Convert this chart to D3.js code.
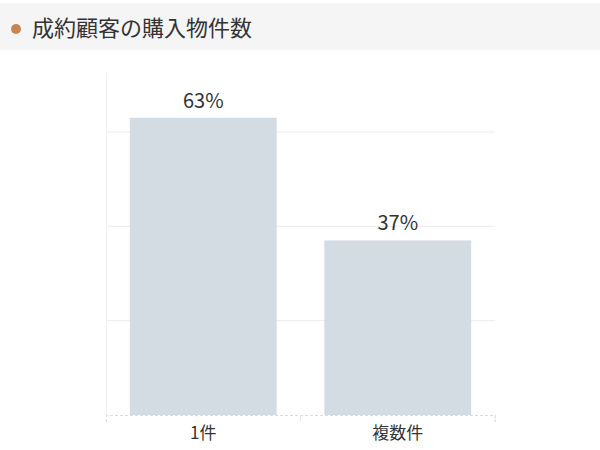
<!DOCTYPE html>
<html>
<head>
<meta charset="utf-8">
<script src="https://cdn.jsdelivr.net/npm/d3@7"></script>
<style>
  body { margin: 0; background: #fff; }
  svg { display: block; font-family: "Noto Sans CJK JP", "Noto Sans", sans-serif; }
</style>
</head>
<body>
<svg class="chart"></svg>
<script>
var categories = ["1件", "複数件"];
var values = [63, 37];
var gridTicks = [20, 40, 60];
var title = "成約顧客の購入物件数";

var width = 600;
var height = 450;
var svg = d3.select(".chart").attr("width", width).attr("height", height);

// header band
svg.append("rect")
  .attr("x", 0).attr("y", 3)
  .attr("width", width).attr("height", 47)
  .attr("fill", "#f5f5f5");
svg.append("circle")
  .attr("cx", 16).attr("cy", 29).attr("r", 5)
  .attr("fill", "#c9844f");
svg.append("text")
  .attr("x", 32).attr("y", 28)
  .attr("dy", "0.35em")
  .attr("font-size", 22)
  .attr("fill", "#333")
  .text(title);

var x = d3.scaleBand()
  .domain(categories)
  .range([106, 495])
  .paddingInner(0.245)
  .paddingOuter(0.1225);

var y = d3.scaleLinear()
  .domain([0, 72.5])
  .range([415, 73]);

// grid lines
svg.append("g")
  .selectAll("line")
  .data(gridTicks)
  .join("line")
  .attr("x1", 106).attr("x2", 495)
  .attr("y1", function(d){ return y(d); })
  .attr("y2", function(d){ return y(d); })
  .attr("stroke", "#ececec")
  .attr("stroke-width", 1);

// left axis line
svg.append("line")
  .attr("x1", 106.5).attr("x2", 106.5)
  .attr("y1", y(72.5)).attr("y2", y(0))
  .attr("stroke", "#f0f0f0");

// bars
svg.append("g")
  .selectAll("rect")
  .data(values)
  .join("rect")
  .attr("x", function(d, i){ return x(categories[i]); })
  .attr("y", function(d){ return y(d); })
  .attr("width", x.bandwidth())
  .attr("height", function(d){ return y(0) - y(d); })
  .attr("fill", "#d3dbe3");

// value labels
svg.append("g")
  .selectAll("text")
  .data(values)
  .join("text")
  .attr("x", function(d, i){ return x(categories[i]) + x.bandwidth() / 2; })
  .attr("y", function(d){ return y(d) - 17; })
  .attr("text-anchor", "middle")
  .attr("dy", "0.35em")
  .attr("font-size", 20)
  .attr("fill", "#333")
  .text(function(d){ return d + "%"; });

// x axis
var xAxis = d3.axisBottom(x).tickSize(7).tickPadding(5).tickSizeOuter(7);
var gx = svg.append("g")
  .attr("transform", "translate(0,415)")
  .call(xAxis);
gx.select(".domain")
  .attr("stroke", "#dcdcdc")
  .attr("stroke-dasharray", "3,2");
gx.selectAll(".tick line")
  .attr("stroke", "#e6e6e6")
  .attr("transform", function(){ return "translate(" + (x.step() / 2) + ",0)"; });
gx.selectAll(".tick text")
  .attr("font-size", 17)
  .attr("fill", "#333")
  .attr("font-family", "\"Noto Sans CJK JP\", sans-serif");
</script>
</body>
</html>
